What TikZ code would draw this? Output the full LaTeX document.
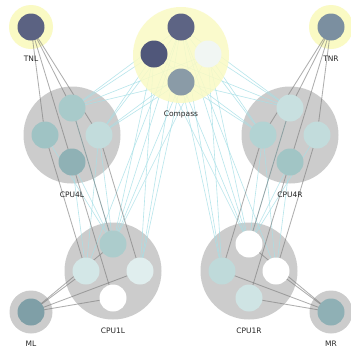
\documentclass[tikz,border=0pt]{standalone}
\usepackage{fontspec}
\setmainfont{DejaVu Sans}
\definecolor{halo}{HTML}{FAFAC4}
\definecolor{grp}{HTML}{CCCCCC}
\definecolor{gedge}{HTML}{7A7A7A}
\definecolor{cedge}{HTML}{A6E0E7}
\tikzset{
  grpc/.style={circle,fill=grp,draw=none,minimum size=97pt,inner sep=0pt},
  haloc/.style={circle,fill=halo,draw=none,inner sep=0pt},
  nd/.style={circle,draw=none,minimum size=27pt,inner sep=0pt},
  lbl/.style={font=\fontsize{7.5}{9}\selectfont,text=black!85,inner sep=0pt},
  ge/.style={draw=gedge,line width=0.85pt,opacity=0.6},
  ce/.style={draw=cedge,line width=0.6pt,opacity=0.8}
}
\begin{document}
\begin{tikzpicture}[x=1pt,y=-1pt]
\useasboundingbox (0,0) rectangle (351,349);
\fill[white] (0,0) rectangle (351,349);
% halos and groups
\node[haloc,minimum size=44pt] (hTNL) at (31,27) {};
\node[haloc,minimum size=44pt] (hTNR) at (331,27) {};
\node[grpc] (g4L) at (72,135) {};
\node[grpc] (g4R) at (290,135) {};
\node[grpc] (g1L) at (113,271) {};
\node[grpc] (g1R) at (249,271) {};
\node[grpc,minimum size=43pt] (hML) at (31,312) {};
\node[grpc,minimum size=43pt] (hMR) at (331,312) {};
% node coordinates
\coordinate (TNL) at (31,27);
\coordinate (TNR) at (331,27);
\coordinate (ML) at (31,312);
\coordinate (MR) at (331,312);
\coordinate (ct) at (181,27);
\coordinate (cl) at (154,54);
\coordinate (cr) at (208,54);
\coordinate (cb) at (181,82);
\coordinate (L4t) at (72,108);
\coordinate (L4l) at (45,135);
\coordinate (L4r) at (99,135);
\coordinate (L4b) at (72,162);
\coordinate (R4t) at (290,108);
\coordinate (R4l) at (263,135);
\coordinate (R4r) at (317,135);
\coordinate (R4b) at (290,162);
\coordinate (L1t) at (113,244);
\coordinate (L1l) at (86,271);
\coordinate (L1r) at (140,271);
\coordinate (L1b) at (113,298);
\coordinate (R1t) at (249,244);
\coordinate (R1l) at (222,271);
\coordinate (R1r) at (276,271);
\coordinate (R1b) at (249,298);
% cyan edges
\foreach \c in {ct,cl,cr,cb}{
  \foreach \t in {L4t,L4r,R4t,R4l,L1t,R1t}{
    \draw[ce] (\c) -- (\t);
  }
}
\foreach \c in {cl,ct,cb}{\draw[ce] (\c) -- (L1r);}
\foreach \c in {cr,ct,cb}{\draw[ce] (\c) -- (R1l);}
\draw[ce] (ct) -- (L1l);
\draw[ce] (ct) -- (R1r);
\foreach \s in {L4l,L4t,L4r,L4b}{\draw[ce] (\s) -- (L1t);}
\foreach \s in {L4b,L4r}{\draw[ce] (\s) -- (L1l);}
\foreach \s in {R4r,R4t,R4l,R4b}{\draw[ce] (\s) -- (R1t);}
\foreach \s in {R4b,R4l}{\draw[ce] (\s) -- (R1r);}
% compass halo over its edges
\node[haloc,minimum size=96pt,opacity=0.85] (hC) at (181,55) {};
% gray edges
\foreach \k in {t,l,r,b}{
  \draw[ge] (TNL) -- (L4\k);
  \draw[ge] (TNR) -- (R4\k);
  \draw[ge] (L4\k) -- (L1\k);
  \draw[ge] (R4\k) -- (R1\k);
  \draw[ge] (ML) -- (L1\k);
  \draw[ge] (MR) -- (R1\k);
}
% nodes
\node[nd,fill={rgb,255:red,91;green,98;blue,130}] (nTNL) at (TNL) {};
\node[nd,fill={rgb,255:red,123;green,143;blue,160}] (nTNR) at (TNR) {};
\node[nd,fill={rgb,255:red,93;green,100;blue,132}] (nct) at (ct) {};
\node[nd,fill={rgb,255:red,80;green,87;blue,122}] (ncl) at (cl) {};
\node[nd,fill={rgb,255:red,241;green,246;blue,243}] (ncr) at (cr) {};
\node[nd,fill={rgb,255:red,138;green,155;blue,167}] (ncb) at (cb) {};
\node[nd,fill={rgb,255:red,168;green,202;blue,202}] (nL4t) at (L4t) {};
\node[nd,fill={rgb,255:red,159;green,195;blue,196}] (nL4l) at (L4l) {};
\node[nd,fill={rgb,255:red,194;green,220;blue,220}] (nL4r) at (L4r) {};
\node[nd,fill={rgb,255:red,143;green,177;blue,181}] (nL4b) at (L4b) {};
\node[nd,fill={rgb,255:red,200;green,224;blue,224}] (nR4t) at (R4t) {};
\node[nd,fill={rgb,255:red,178;green,211;blue,211}] (nR4l) at (R4l) {};
\node[nd,fill={rgb,255:red,194;green,220;blue,220}] (nR4r) at (R4r) {};
\node[nd,fill={rgb,255:red,161;green,197;blue,197}] (nR4b) at (R4b) {};
\node[nd,fill={rgb,255:red,172;green,204;blue,204}] (nL1t) at (L1t) {};
\node[nd,fill={rgb,255:red,211;green,231;blue,231}] (nL1l) at (L1l) {};
\node[nd,fill={rgb,255:red,224;green,238;blue,238}] (nL1r) at (L1r) {};
\node[nd,fill=white] (nL1b) at (L1b) {};
\node[nd,fill=white] (nR1t) at (R1t) {};
\node[nd,fill={rgb,255:red,191;green,218;blue,218}] (nR1l) at (R1l) {};
\node[nd,fill=white] (nR1r) at (R1r) {};
\node[nd,fill={rgb,255:red,207;green,228;blue,228}] (nR1b) at (R1b) {};
\node[nd,fill={rgb,255:red,127;green,159;blue,167}] (nML) at (ML) {};
\node[nd,fill={rgb,255:red,143;green,176;blue,181}] (nMR) at (MR) {};
% labels
\node[lbl] (tTNL) at (31,59) {TNL};
\node[lbl] (tTNR) at (331,59) {TNR};
\node[lbl] (tC) at (181,114) {Compass};
\node[lbl] (t4L) at (72,195) {CPU4L};
\node[lbl] (t4R) at (290,195) {CPU4R};
\node[lbl] (t1L) at (113,331) {CPU1L};
\node[lbl] (t1R) at (249,331) {CPU1R};
\node[lbl] (tML) at (31,344) {ML};
\node[lbl] (tMR) at (331,344) {MR};
\end{tikzpicture}
\end{document}
